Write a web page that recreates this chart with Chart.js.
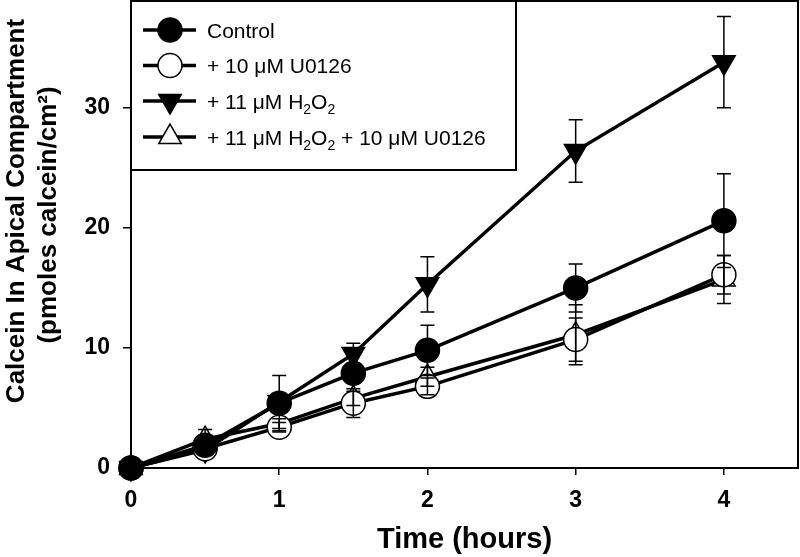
<!DOCTYPE html>
<html><head><meta charset="utf-8">
<script src="https://cdn.jsdelivr.net/npm/chart.js@4/dist/chart.umd.min.js"></script>
<style>html,body{margin:0;padding:0;background:#fff}#wrap{width:800px;height:557px}</style>
</head><body><div id="wrap"><canvas id="c" width="800" height="557"></canvas></div>
<script>
const times = [0, 0.5, 1, 1.5, 2, 3, 4];
const control = [0, 1.9, 5.4, 7.9, 9.8, 15.0, 20.6];
const controlErr = [0, 0.4, 2.3, 0.6, 2.1, 2.0, 3.9];
const u0126 = [0, 1.6, 3.4, 5.4, 6.8, 10.7, 16.1];
const u0126Err = [0, 0.3, 0.4, 1.2, 0.7, 1.8, 1.6];
const h2o2 = [0, 1.5, 5.5, 9.5, 15.3, 26.4, 33.8];
const h2o2Err = [0, 0.4, 0.6, 0.9, 2.3, 2.6, 3.8];
const combo = [0, 2.4, 3.7, 5.8, 7.6, 11.1, 15.7];
const comboErr = [0, 0.8, 0.4, 0.6, 0.8, 2.5, 2.0];
const seriesNames = ['Control', '+ 10 μM U0126', '+ 11 μM H₂O₂', '+ 11 μM H₂O₂ + 10 μM U0126'];
const xTicks = [0, 1, 2, 3, 4];
const yTicks = [0, 10, 20, 30];
const xTitle = 'Time (hours)';
const yTitle = ['Calcein In Apical Compartment', '(pmoles calcein/cm²)'];

const FONT = '"Liberation Sans", Arial, sans-serif';
const styles = [
  {pointStyle: 'circle', radius: 12, rotation: 0, fill: '#000'},
  {pointStyle: 'circle', radius: 12, rotation: 0, fill: '#fff'},
  {pointStyle: 'triangle', radius: 13, rotation: 180, fill: '#000'},
  {pointStyle: 'triangle', radius: 13, rotation: 0, fill: '#fff'}
];
const values = [control, u0126, h2o2, combo];
const errors = [controlErr, u0126Err, h2o2Err, comboErr];

const datasets = values.map((vals, i) => ({
  label: seriesNames[i],
  data: times.map((t, j) => ({x: t, y: vals[j]})),
  borderColor: '#000',
  borderWidth: 3.5,
  pointStyle: styles[i].pointStyle,
  pointRadius: styles[i].radius,
  pointRotation: styles[i].rotation,
  pointBackgroundColor: styles[i].fill,
  pointBorderColor: '#000',
  pointBorderWidth: 1.5,
  tension: 0,
  fill: false,
  clip: false
}));

const errorBars = {
  id: 'errorBars',
  afterDatasetsDraw(chart) {
    const {ctx, scales: {x, y}} = chart;
    ctx.save();
    ctx.strokeStyle = '#000';
    ctx.lineWidth = 1.5;
    values.forEach((vals, i) => {
      vals.forEach((v, j) => {
        const e = errors[i][j];
        if (!e) return;
        const px = x.getPixelForValue(times[j]);
        const yt = y.getPixelForValue(v + e);
        const yb = y.getPixelForValue(v - e);
        ctx.beginPath();
        ctx.moveTo(px, yt); ctx.lineTo(px, yb);
        ctx.moveTo(px - 7, yt); ctx.lineTo(px + 7, yt);
        ctx.moveTo(px - 7, yb); ctx.lineTo(px + 7, yb);
        ctx.stroke();
      });
    });
    ctx.restore();
  }
};

function drawMarker(ctx, s, x, y) {
  Chart.helpers.drawPoint(ctx, {pointStyle: s.pointStyle, rotation: s.rotation, radius: s.radius, borderWidth: 1.5}, x, y);
}

const frameAndLegend = {
  id: 'frameAndLegend',
  afterDraw(chart) {
    const {ctx, chartArea: a} = chart;
    ctx.save();
    ctx.strokeStyle = '#000';
    ctx.lineWidth = 2;
    ctx.strokeRect(a.left, a.top, a.right - a.left, a.bottom - a.top);
    // y-axis title (two lines, rotated)
    ctx.fillStyle = '#000';
    ctx.font = 'bold 26px ' + FONT;
    ctx.textAlign = 'center';
    ctx.textBaseline = 'middle';
    ctx.save();
    ctx.translate(17, 211);
    ctx.rotate(-Math.PI / 2);
    ctx.fillText(yTitle[0], 0, 0);
    ctx.restore();
    ctx.save();
    ctx.translate(49, 215);
    ctx.rotate(-Math.PI / 2);
    ctx.fillText(yTitle[1], 0, 0);
    ctx.restore();
    ctx.textAlign = 'left';
    // legend box
    const lx = a.left, ly = a.top, lw = 385, lh = 169;
    ctx.fillStyle = '#fff';
    ctx.fillRect(lx, ly, lw, lh);
    ctx.strokeRect(lx, ly, lw, lh);
    const rows = [30, 65.5, 101, 137];
    seriesNames.forEach((name, i) => {
      const ry = rows[i];
      ctx.strokeStyle = '#000';
      ctx.lineWidth = 3.5;
      ctx.beginPath();
      ctx.moveTo(143, ry); ctx.lineTo(196, ry);
      ctx.stroke();
      ctx.fillStyle = styles[i].fill;
      ctx.strokeStyle = '#000';
      ctx.lineWidth = 1.5;
      drawMarker(ctx, styles[i], 170, ry);
      ctx.fillStyle = '#000';
      ctx.textBaseline = 'alphabetic';
      let tx = 207;
      const parts = name.split(/(₂)/);
      parts.forEach(p => {
        if (p === '₂') {
          ctx.font = '14px ' + FONT;
          ctx.fillText('2', tx, ry + 13);
          tx += ctx.measureText('2').width;
        } else if (p) {
          ctx.font = '21px ' + FONT;
          ctx.fillText(p, tx, ry + 7.5);
          tx += ctx.measureText(p).width;
        }
      });
    });
    ctx.restore();
  }
};

new Chart(document.getElementById('c'), {
  type: 'line',
  data: {datasets},
  options: {
    responsive: false,
    animation: false,
    devicePixelRatio: 1,
    layout: {autoPadding: false, padding: {top: 1, right: 2, left: 0, bottom: 0}},
    plugins: {legend: {display: false}, tooltip: {enabled: false}},
    scales: {
      x: {
        type: 'linear', min: 0, max: 4.5,
        afterFit(s) { s.height = 89; s.paddingLeft = 0; s.paddingRight = 0; s.paddingTop = 0; s.paddingBottom = 0; },
        afterBuildTicks(s) { s.ticks = xTicks.map(v => ({value: v})); },
        ticks: {font: {family: FONT, size: 23, weight: 'bold'}, color: '#000', padding: 12, maxRotation: 0},
        grid: {drawOnChartArea: false, drawTicks: true, tickLength: 7, color: '#000', lineWidth: 1.5},
        border: {display: false},
        title: {display: true, text: xTitle, color: '#000', font: {family: FONT, size: 29, weight: 'bold'}, padding: {top: 0, bottom: 0}}
      },
      y: {
        type: 'linear', min: 0, max: 38.9,
        afterFit(s) { s.width = 131; s.paddingLeft = 0; s.paddingRight = 0; s.paddingTop = 0; s.paddingBottom = 0; },
        afterBuildTicks(s) { s.ticks = yTicks.map(v => ({value: v})); },
        ticks: {font: {family: FONT, size: 23, weight: 'bold'}, color: '#000', padding: 13},
        grid: {drawOnChartArea: false, drawTicks: true, tickLength: 8, color: '#000', lineWidth: 1.5},
        border: {display: false},
        title: {display: false}
      }
    }
  },
  plugins: [errorBars, frameAndLegend]
});
</script>
</body></html>
